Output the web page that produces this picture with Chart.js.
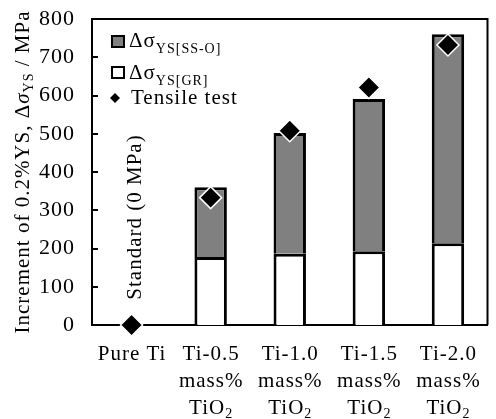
<!DOCTYPE html>
<html>
<head>
<meta charset="utf-8">
<script src="https://cdn.jsdelivr.net/npm/chart.js@4.4.1/dist/chart.umd.min.js"></script>
<style>
  html, body { margin: 0; padding: 0; overflow: hidden; background: #fff; }
  #wrap { width: 500px; height: 419px; }
</style>
</head>
<body>
<div id="wrap"><canvas id="c" width="500" height="419"></canvas></div>
<script>
// Alloys (multi-line category labels)
const categories = [
  ['Pure Ti'],
  ['Ti-0.5', 'mass%', 'TiO₂'],
  ['Ti-1.0', 'mass%', 'TiO₂'],
  ['Ti-1.5', 'mass%', 'TiO₂'],
  ['Ti-2.0', 'mass%', 'TiO₂']
];
// Strengthening contributions, MPa (Pure Ti is the reference, no bar)
const grainRefinement     = [null, 178, 186, 193, 214];
const solidSolutionOxygen = [null, 182, 316, 398, 546];
// Measured increment of 0.2% yield stress, MPa
const tensileTest         = [0, 333, 508, 621, 732];

// Y axis range and step
const yMin = 0, yMax = 800, yStep = 100;

// Legend entries: main text + subscript
const legendMain = ['Δσ', 'Δσ', 'Tensile test'];
const legendSub  = ['YS[SS-O]', 'YS[GR]', ''];

const SERIF = "'Liberation Serif', 'Times New Roman', serif";
const font = (size, style) => (style ? style + ' ' : '') + size + 'px ' + SERIF;

Chart.defaults.font.family = SERIF;
Chart.defaults.font.size = 21;
Chart.defaults.color = '#000';

// Pieces of text with a baseline shift, drawn left to right
function drawRuns(ctx, runs, x, y) {
  let cx = x;
  runs.forEach(r => {
    ctx.font = r.f;
    ctx.fillText(r.t, cx, y + (r.dy || 0));
    cx += ctx.measureText(r.t).width;
  });
  return cx;
}
function runsWidth(ctx, runs) {
  let w = 0;
  runs.forEach(r => { ctx.font = r.f; w += ctx.measureText(r.t).width; });
  return w;
}
// Split a label line so that "₂" is set as a real subscript
function labelRuns(line) {
  const parts = line.split('₂');
  const runs = [];
  parts.forEach((p, i) => {
    if (p) runs.push({ t: p, f: font(21) });
    if (i < parts.length - 1) runs.push({ t: '2', f: font(14), dy: 4 });
  });
  return runs;
}

const decorations = {
  id: 'decorations',
  beforeDraw(chart) {
    chart.ctx.letterSpacing = '1px';
  },
  beforeDatasetsDraw(chart) {
    const { ctx, chartArea: a, scales: { y } } = chart;
    ctx.save();
    ctx.strokeStyle = '#000';
    ctx.lineWidth = 2;
    // frame: top and right edges
    ctx.beginPath();
    ctx.moveTo(a.left - 1, a.top);
    ctx.lineTo(a.right, a.top);
    ctx.lineTo(a.right, a.bottom);
    ctx.stroke();
    // inward tick marks on the value axis
    y.ticks.forEach(t => {
      const py = Math.round(y.getPixelForValue(t.value));
      ctx.beginPath();
      ctx.moveTo(a.left, py);
      ctx.lineTo(a.left + 6, py);
      ctx.stroke();
    });
    ctx.restore();
  },
  afterDraw(chart) {
    const { ctx, chartArea: a, scales: { x } } = chart;
    ctx.save();
    ctx.letterSpacing = '1px';
    ctx.fillStyle = '#000';
    ctx.textBaseline = 'alphabetic';
    ctx.textAlign = 'left';

    // Category labels under the axis
    const lineBase = [360, 387, 414];
    chart.data.labels.forEach((lines, i) => {
      const cx = x.getPixelForValue(i);
      lines.forEach((line, j) => {
        const runs = labelRuns(line);
        drawRuns(ctx, runs, cx - runsWidth(ctx, runs) / 2 + 0.5, lineBase[j]);
      });
    });

    // Value-axis title, rotated
    const title = [
      { t: 'Increment of 0.2%YS, Δ', f: font(21) },
      { t: 'σ', f: font(21, 'italic') },
      { t: 'YS', f: font(14), dy: 4 },
      { t: ' / MPa', f: font(21) }
    ];
    ctx.save();
    ctx.translate(29, (a.top + a.bottom) / 2);
    ctx.rotate(-Math.PI / 2);
    drawRuns(ctx, title, -runsWidth(ctx, title) / 2, 0);
    ctx.restore();

    // Reference note above Pure Ti
    ctx.save();
    ctx.font = font(21);
    ctx.translate(x.getPixelForValue(0) + 9, 217);
    ctx.rotate(-Math.PI / 2);
    ctx.textAlign = 'center';
    ctx.fillText('Standard (0 MPa)', 0, 0);
    ctx.restore();

    // Legend
    const ds = chart.data.datasets;
    const rows = [
      { box: ds[1], y: 36, base: 47 },
      { box: ds[0], y: 67, base: 79 },
      { box: null, y: 93, base: 104 }
    ];
    rows.forEach((r, i) => {
      if (r.box) {
        ctx.fillStyle = r.box.backgroundColor;
        ctx.fillRect(112, r.y, 12, 11);
        ctx.strokeStyle = '#000';
        ctx.lineWidth = 2;
        ctx.strokeRect(112, r.y, 12, 11);
        ctx.fillStyle = '#000';
        drawRuns(ctx, [
          { t: legendMain[i], f: font(21) },
          { t: legendSub[i], f: font(14), dy: 6 }
        ], 129, r.base);
      } else {
        ctx.fillStyle = '#000';
        ctx.beginPath();
        ctx.moveTo(115, 93); ctx.lineTo(120, 98); ctx.lineTo(115, 103); ctx.lineTo(110, 98);
        ctx.closePath();
        ctx.fill();
        ctx.font = font(21);
        ctx.fillText(legendMain[i], 131, r.base);
      }
    });
    ctx.restore();
  }
};

new Chart(document.getElementById('c'), {
  data: {
    labels: categories,
    datasets: [
      {
        type: 'bar',
        label: 'GR',
        data: grainRefinement,
        stack: 'bars',
        backgroundColor: '#ffffff',
        borderColor: '#000000',
        borderWidth: 3,
        barPercentage: 0.41,
        categoryPercentage: 1,
        order: 1
      },
      {
        type: 'bar',
        label: 'SS-O',
        data: solidSolutionOxygen,
        stack: 'bars',
        backgroundColor: '#808080',
        borderColor: '#000000',
        borderWidth: 3,
        barPercentage: 0.41,
        categoryPercentage: 1,
        order: 1
      },
      {
        type: 'line',
        label: 'Tensile test',
        data: tensileTest,
        stack: 'tensile',
        showLine: false,
        pointStyle: 'rectRot',
        pointRadius: 11,
        pointBackgroundColor: '#000000',
        pointBorderColor: '#ffffff',
        pointBorderWidth: 1.5,
        clip: false,
        order: 0
      }
    ]
  },
  options: {
    responsive: false,
    animation: false,
    layout: { padding: { top: 19, right: 1, left: 0, bottom: 0 } },
    plugins: { legend: { display: false }, tooltip: { enabled: false } },
    scales: {
      x: {
        stacked: true,
        offset: true,
        grid: { display: false, drawTicks: false },
        border: { display: true, color: '#000', width: 2 },
        ticks: { display: false },
        afterFit(s) { s.height = 94; s.paddingLeft = 0; s.paddingRight = 0; }
      },
      y: {
        stacked: true,
        min: yMin,
        max: yMax,
        grid: { display: false, drawTicks: false },
        border: { display: true, color: '#000', width: 2 },
        ticks: { stepSize: yStep, padding: 17, font: { size: 22 } },
        afterFit(s) { s.width = 92; s.paddingTop = 0; s.paddingBottom = 0; }
      }
    }
  },
  plugins: [decorations]
});
</script>
</body>
</html>
